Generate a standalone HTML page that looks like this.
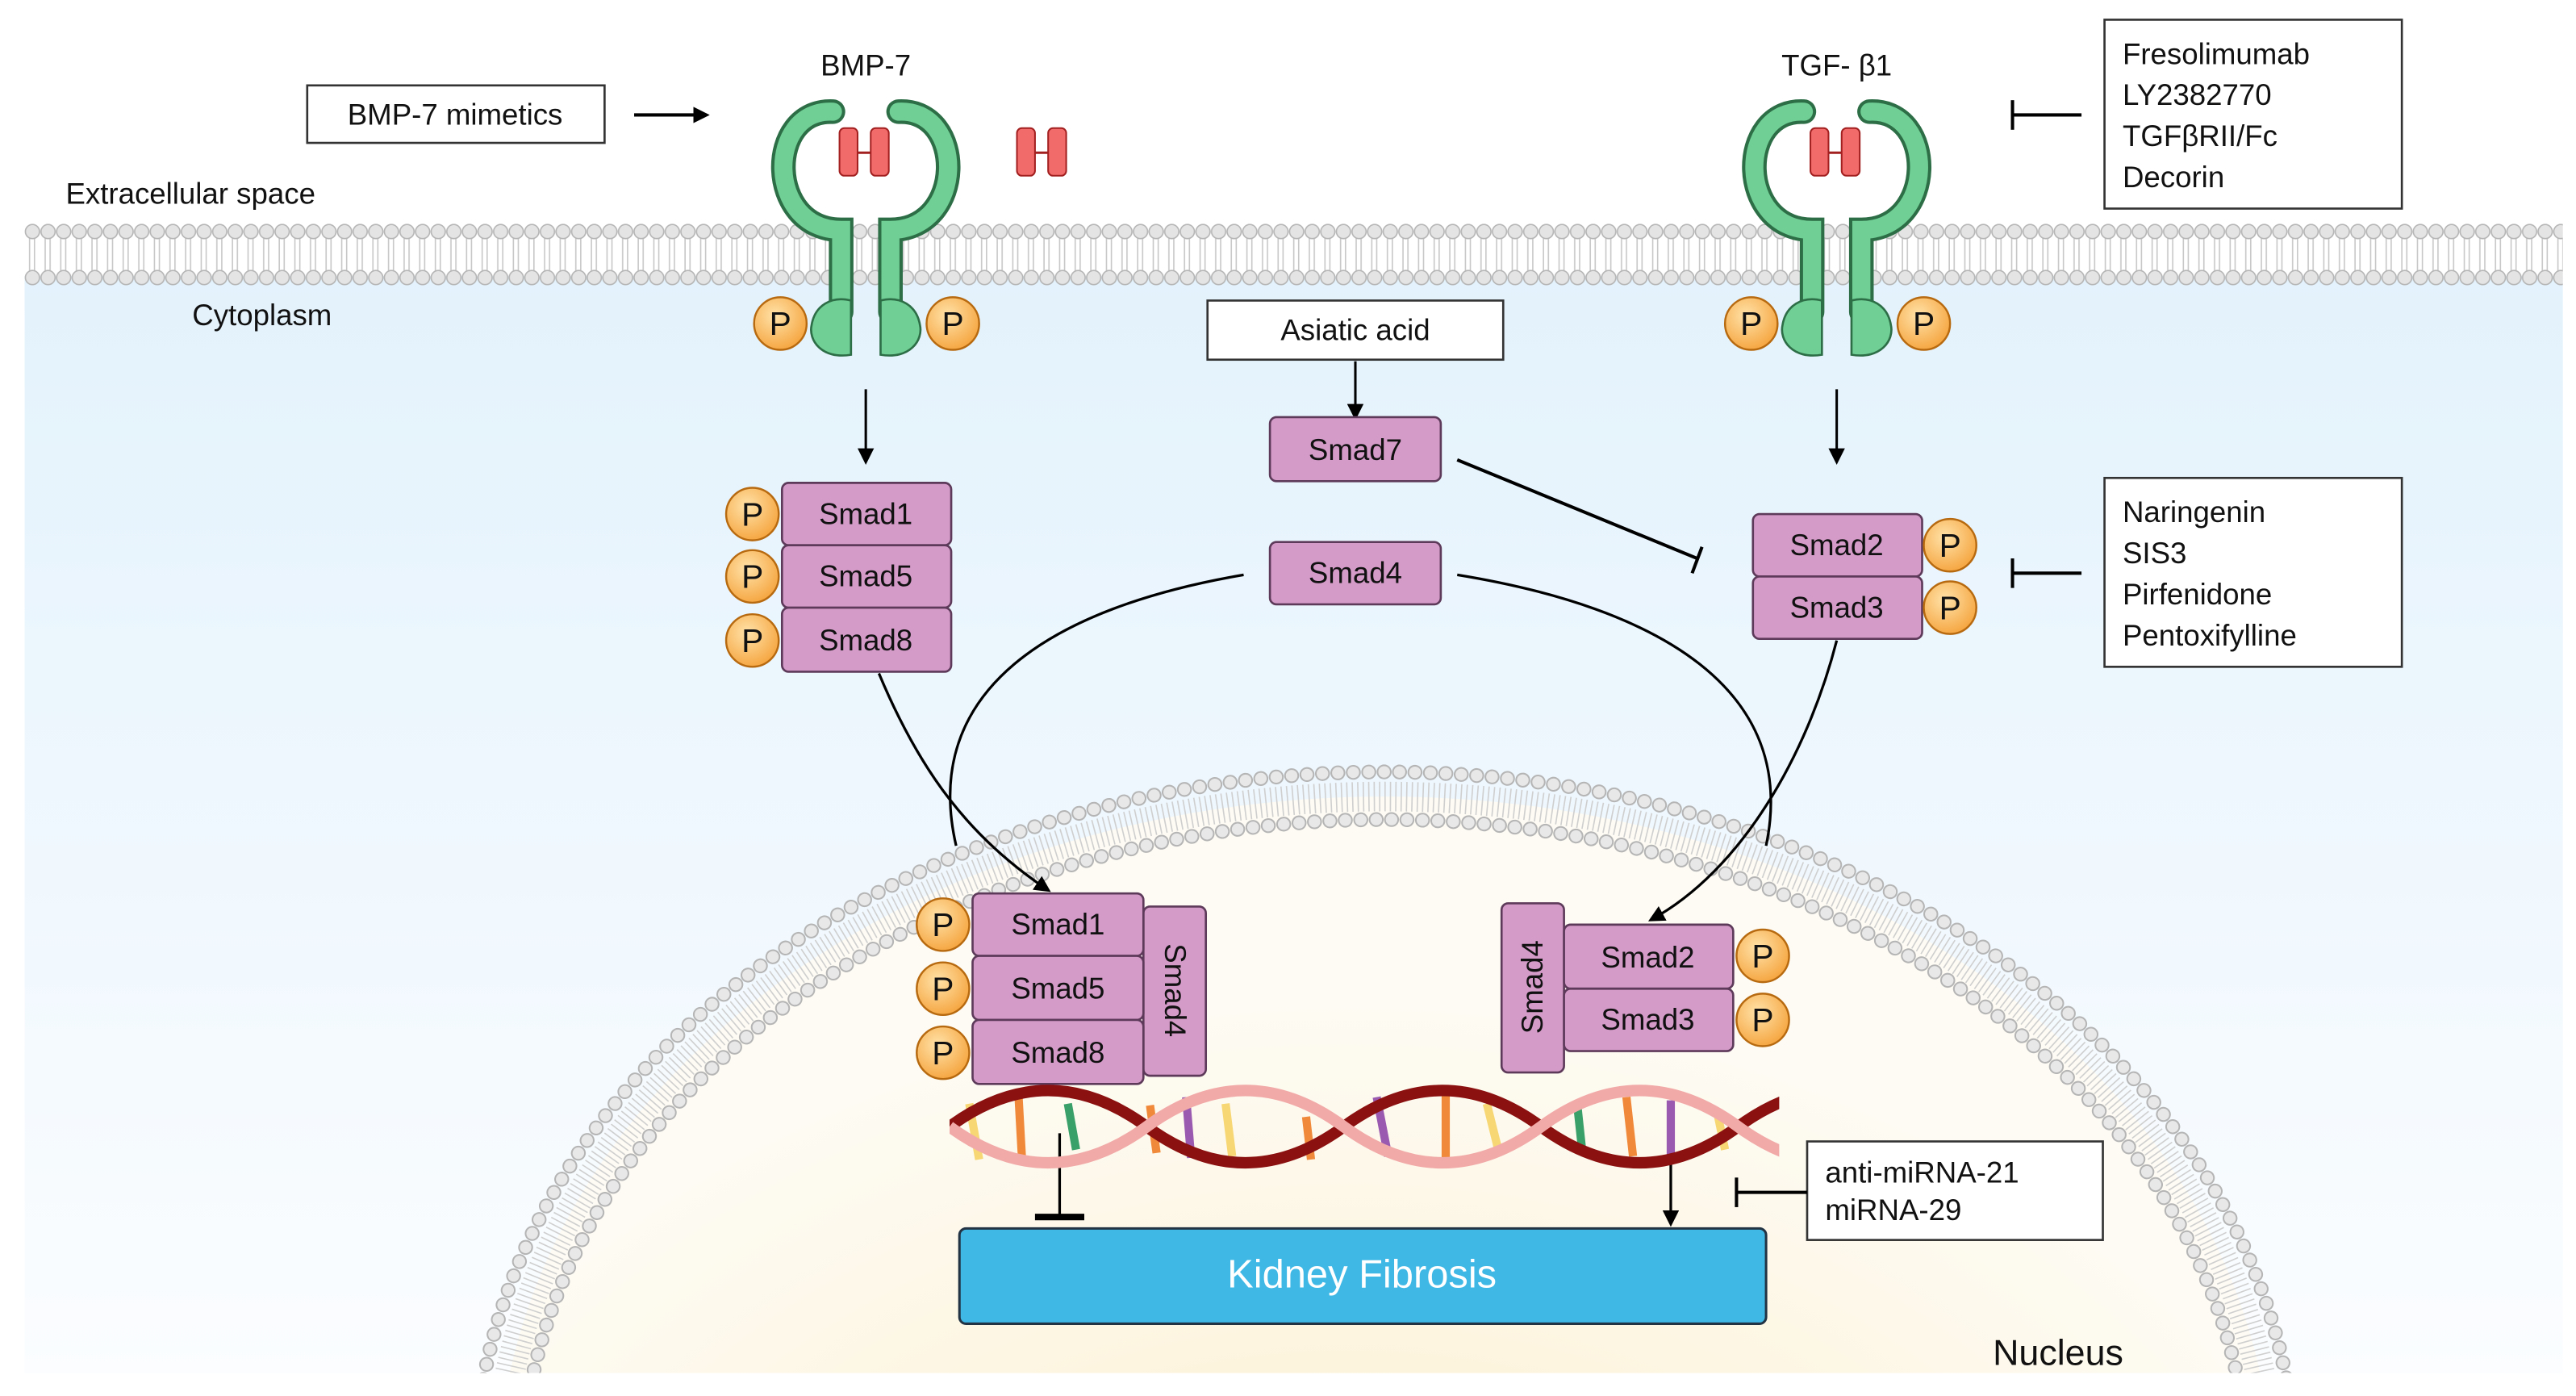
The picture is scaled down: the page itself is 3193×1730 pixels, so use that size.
<!DOCTYPE html>
<html><head><meta charset="utf-8"><style>
html,body{margin:0;padding:0;background:#fff;width:3193px;height:1730px;overflow:hidden}
svg{display:block}
text{font-family:"Liberation Sans",sans-serif;fill:#111}
</style></head><body>
<svg width="3193" height="1730" viewBox="0 0 1568 850" preserveAspectRatio="none" xmlns="http://www.w3.org/2000/svg">
<defs>
<linearGradient id="cyto" x1="0" y1="0" x2="0" y2="1">
<stop offset="0" stop-color="#e3f2fc"/><stop offset="1" stop-color="#fbfdff"/></linearGradient>
<radialGradient id="nuc" cx="0.48" cy="0.75" r="0.6">
<stop offset="0" stop-color="#fbe7b5"/><stop offset="0.6" stop-color="#fdf5e0"/><stop offset="1" stop-color="#fdfbf3"/></radialGradient>
<radialGradient id="pg" cx="0.4" cy="0.35" r="0.7">
<stop offset="0" stop-color="#ffe2a8"/><stop offset="1" stop-color="#f5a33c"/></radialGradient>
<pattern id="mem" x="15" y="0" width="9.5" height="850" patternUnits="userSpaceOnUse">
<line x1="3" y1="144" x2="3" y2="166" stroke="#c8c8c8" stroke-width="0.8"/>
<line x1="6" y1="144" x2="6" y2="166" stroke="#c8c8c8" stroke-width="0.8"/>
<circle cx="4.75" cy="141" r="4.3" fill="#e4e4e4" stroke="#b5b5b5" stroke-width="0.8"/>
<circle cx="4.75" cy="169" r="4.3" fill="#e4e4e4" stroke="#b5b5b5" stroke-width="0.8"/>
</pattern>
<marker id="ah" markerWidth="10" markerHeight="10" refX="8" refY="5" orient="auto" markerUnits="userSpaceOnUse">
<path d="M0,0 L10,5 L0,10 z" fill="#000"/></marker>
<clipPath id="dnaclip"><rect x="578" y="655" width="505" height="65"/></clipPath>
<g id="P"><circle r="16" fill="url(#pg)" stroke="#b86a10" stroke-width="1.2"/><text y="7" text-anchor="middle" font-size="20">P</text></g>
<g id="recp">
<path d="M507,68 C466,66 466,140 512,140 L512,190" stroke="#2d6e47" stroke-width="15" fill="none" stroke-linecap="round"/>
<path d="M547,68 C588,66 588,140 542,140 L542,190" stroke="#2d6e47" stroke-width="15" fill="none" stroke-linecap="round"/>
<path d="M507,68 C466,66 466,140 512,140 L512,190" stroke="#6fcf94" stroke-width="11" fill="none" stroke-linecap="round"/>
<path d="M547,68 C588,66 588,140 542,140 L542,190" stroke="#6fcf94" stroke-width="11" fill="none" stroke-linecap="round"/>
<path d="M518,183 L518,216 C500,219 492,207 494,198 C496,186 506,180 518,183 z" fill="#6fcf94" stroke="#2d6e47" stroke-width="1.3"/>
<path d="M536,183 L536,216 C554,219 562,207 560,198 C558,186 548,180 536,183 z" fill="#6fcf94" stroke="#2d6e47" stroke-width="1.3"/>
<use href="#P" x="475" y="197"/><use href="#P" x="580" y="197"/>
</g>
</defs>

<rect x="15" y="168" width="1545" height="668" fill="url(#cyto)"/>
<rect x="15" y="135" width="1545" height="40" fill="url(#mem)"/>

<!-- nucleus -->
<ellipse cx="843" cy="905" rx="540" ry="420" fill="url(#nuc)"/>
<ellipse cx="843" cy="905" rx="555" ry="435" fill="none" stroke="#b5b5b5" stroke-width="9" stroke-dasharray="0.1 9.3" stroke-linecap="round"/>
<ellipse cx="843" cy="905" rx="555" ry="435" fill="none" stroke="#e8e8e8" stroke-width="7" stroke-dasharray="0.1 9.3" stroke-linecap="round"/>
<ellipse cx="843" cy="905" rx="540" ry="420" fill="none" stroke="#cfcfcf" stroke-width="18" stroke-dasharray="0.8 2.5"/>
<ellipse cx="843" cy="905" rx="526" ry="406" fill="none" stroke="#b5b5b5" stroke-width="9" stroke-dasharray="0.1 9.3" stroke-linecap="round"/>
<ellipse cx="843" cy="905" rx="526" ry="406" fill="none" stroke="#e8e8e8" stroke-width="7" stroke-dasharray="0.1 9.3" stroke-linecap="round"/>
<rect x="0" y="836" width="1568" height="20" fill="#fff"/>

<use href="#recp"/>
<use href="#recp" x="591"/>
<!-- ligands -->
<g fill="#f26b6b" stroke="#a32020" stroke-width="1">
<rect x="511" y="78" width="11" height="29" rx="3"/><rect x="530" y="78" width="11" height="29" rx="3"/>
<rect x="619" y="78" width="11" height="29" rx="3"/><rect x="638" y="78" width="11" height="29" rx="3"/>
<rect x="1102" y="78" width="11" height="29" rx="3"/><rect x="1121" y="78" width="11" height="29" rx="3"/>
</g>
<g stroke="#a32020" stroke-width="1.5"><line x1="522" y1="93" x2="530" y2="93"/><line x1="630" y1="93" x2="638" y2="93"/><line x1="1113" y1="93" x2="1121" y2="93"/></g>

<!-- labels -->
<text x="527" y="46" font-size="18" text-anchor="middle">BMP-7</text>
<text x="1118" y="46" font-size="18" text-anchor="middle">TGF- β1</text>
<text x="40" y="124" font-size="18">Extracellular space</text>
<text x="117" y="198" font-size="18">Cytoplasm</text>

<g fill="#fff" stroke="#333" stroke-width="1.3">
<rect x="187" y="52" width="181" height="35"/>
<rect x="1281" y="12" width="181" height="115"/>
<rect x="735" y="183" width="180" height="36"/>
<rect x="1281" y="291" width="181" height="115"/>
<rect x="1100" y="695" width="180" height="60"/>
</g>
<text x="277" y="76" font-size="18" text-anchor="middle">BMP-7 mimetics</text>
<g font-size="18"><text x="1292" y="39">Fresolimumab</text><text x="1292" y="64">LY2382770</text><text x="1292" y="89">TGFβRII/Fc</text><text x="1292" y="114">Decorin</text>
<text x="1292" y="318">Naringenin</text><text x="1292" y="343">SIS3</text><text x="1292" y="368">Pirfenidone</text><text x="1292" y="393">Pentoxifylline</text>
<text x="1111" y="720">anti-miRNA-21</text><text x="1111" y="743">miRNA-29</text></g>
<text x="825" y="207" font-size="18" text-anchor="middle">Asiatic acid</text>

<!-- arrows -->
<g stroke="#000" stroke-width="2" fill="none">
<line x1="386" y1="70" x2="430" y2="70" marker-end="url(#ah)"/>
<line x1="527" y1="237" x2="527" y2="281" marker-end="url(#ah)" stroke-width="1.5"/>
<line x1="1118" y1="237" x2="1118" y2="281" marker-end="url(#ah)" stroke-width="1.5"/>
<line x1="825" y1="220" x2="825" y2="254" marker-end="url(#ah)" stroke-width="1.5"/>
<line x1="1267" y1="70" x2="1225" y2="70"/><line x1="1225" y1="61" x2="1225" y2="79"/>
<line x1="1267" y1="349" x2="1225" y2="349"/><line x1="1225" y1="340" x2="1225" y2="358"/>
<line x1="887" y1="280" x2="1033" y2="340"/><line x1="1030" y1="349" x2="1036" y2="333"/>
<path d="M757,350 C640,370 560,420 582,515" stroke-width="1.6"/>
<path d="M887,350 C1010,370 1095,420 1075,515" stroke-width="1.6"/>
<path d="M535,410 C560,470 590,510 638,542" marker-end="url(#ah)" stroke-width="1.6"/>
<path d="M1118,390 C1100,460 1060,530 1005,560" marker-end="url(#ah)" stroke-width="1.6"/>
<line x1="645" y1="690" x2="645" y2="740" stroke-width="1.6"/><line x1="630" y1="741" x2="660" y2="741" stroke-width="4"/>
<line x1="1017" y1="700" x2="1017" y2="745" marker-end="url(#ah)" stroke-width="1.6"/>
<line x1="1100" y1="726" x2="1057" y2="726"/><line x1="1057" y1="717" x2="1057" y2="735"/>
</g>

<!-- smads -->
<g fill="#d49ac8" stroke="#5e3a5a" stroke-width="1.3">
<rect x="773" y="254" width="104" height="39" rx="4"/>
<rect x="773" y="330" width="104" height="38" rx="4"/>
<rect x="476" y="294" width="103" height="38" rx="4"/>
<rect x="476" y="332" width="103" height="38" rx="4"/>
<rect x="476" y="370" width="103" height="39" rx="4"/>
<rect x="1067" y="313" width="103" height="38" rx="4"/>
<rect x="1067" y="351" width="103" height="38" rx="4"/>
<rect x="696" y="552" width="38" height="103" rx="4"/>
<rect x="592" y="544" width="104" height="38" rx="4"/>
<rect x="592" y="582" width="104" height="39" rx="4"/>
<rect x="592" y="621" width="104" height="39" rx="4"/>
<rect x="914" y="550" width="38" height="103" rx="4"/>
<rect x="952" y="563" width="103" height="39" rx="4"/>
<rect x="952" y="602" width="103" height="38" rx="4"/>
</g>
<g font-size="18" text-anchor="middle">
<text x="825" y="280">Smad7</text><text x="825" y="355">Smad4</text>
<text x="527" y="319">Smad1</text><text x="527" y="357">Smad5</text><text x="527" y="396">Smad8</text>
<text x="1118" y="338">Smad2</text><text x="1118" y="376">Smad3</text>
<text x="644" y="569">Smad1</text><text x="644" y="608">Smad5</text><text x="644" y="647">Smad8</text>
<text x="1003" y="589">Smad2</text><text x="1003" y="627">Smad3</text>
<text transform="translate(709,603) rotate(90)">Smad4</text>
<text transform="translate(939,601) rotate(-90)">Smad4</text>
</g>
<use href="#P" x="458" y="313"/><use href="#P" x="458" y="351"/><use href="#P" x="458" y="390"/>
<use href="#P" x="1187" y="332"/><use href="#P" x="1187" y="370"/>
<use href="#P" x="574" y="563"/><use href="#P" x="574" y="602"/><use href="#P" x="574" y="641"/>
<use href="#P" x="1073" y="582"/><use href="#P" x="1073" y="621"/>

<!-- DNA -->
<g clip-path="url(#dnaclip)">
<g stroke-width="5">
<line x1="590" y1="672" x2="596" y2="706" stroke="#f7d774"/><line x1="620" y1="668" x2="622" y2="704" stroke="#f08a3a"/>
<line x1="650" y1="672" x2="655" y2="700" stroke="#3aa06a"/><line x1="700" y1="673" x2="704" y2="702" stroke="#f08a3a"/>
<line x1="722" y1="668" x2="725" y2="705" stroke="#9a5ab0"/><line x1="746" y1="672" x2="750" y2="704" stroke="#f7d774"/>
<line x1="795" y1="680" x2="798" y2="706" stroke="#f08a3a"/><line x1="838" y1="668" x2="845" y2="704" stroke="#9a5ab0"/>
<line x1="880" y1="666" x2="880" y2="708" stroke="#f08a3a"/><line x1="905" y1="672" x2="912" y2="700" stroke="#f7d774"/>
<line x1="960" y1="672" x2="963" y2="700" stroke="#3aa06a"/><line x1="990" y1="668" x2="994" y2="704" stroke="#f08a3a"/>
<line x1="1017" y1="670" x2="1017" y2="708" stroke="#9a5ab0"/><line x1="1045" y1="676" x2="1050" y2="700" stroke="#f7d774"/>
</g>
<path d="M578,686 Q638,642 698,686 T818,686 T938,686 T1058,686 T1178,686" stroke="#8b1010" stroke-width="7" fill="none"/>
<path d="M578,686 Q638,730 698,686 T818,686 T938,686 T1058,686 T1178,686" stroke="#f2aaa8" stroke-width="7" fill="none"/>
</g>

<!-- Kidney fibrosis -->
<rect x="584" y="748" width="491" height="58" rx="4" fill="#40b8e6" stroke="#234" stroke-width="1.5"/>
<text x="829" y="784" font-size="24" text-anchor="middle" style="fill:#fff">Kidney Fibrosis</text>
<text x="1213" y="831" font-size="22">Nucleus</text>
</svg>
</body></html>
